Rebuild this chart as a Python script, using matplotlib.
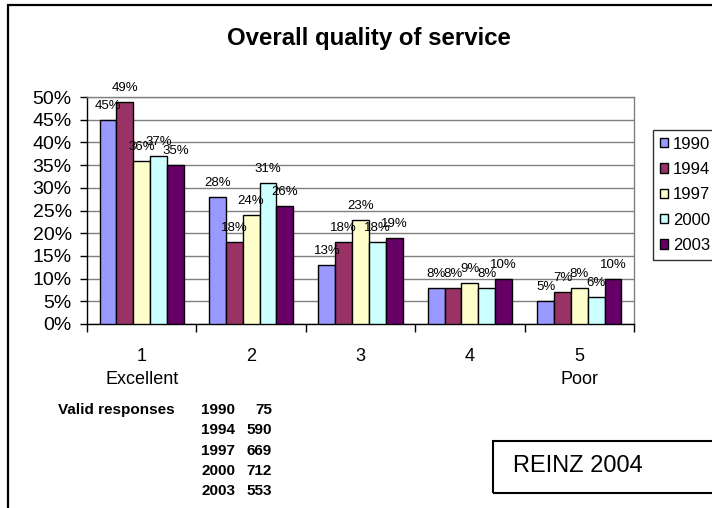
import matplotlib
matplotlib.use("Agg")
import matplotlib.pyplot as plt
from matplotlib.patches import Rectangle
import numpy as np

plt.rcParams['font.family'] = ['Liberation Sans', 'DejaVu Sans']

categories = ["1\nExcellent", "2", "3", "4", "5\nPoor"]
years = ["1990", "1994", "1997", "2000", "2003"]
v1990 = [45, 28, 13, 8, 5]
v1994 = [49, 18, 18, 8, 7]
v1997 = [36, 24, 23, 9, 8]
v2000 = [37, 31, 18, 8, 6]
v2003 = [35, 26, 19, 10, 10]
series = [v1990, v1994, v1997, v2000, v2003]
colors = ["#9999FF", "#993366", "#FFFFCC", "#CCFFFF", "#660066"]
yticks = [0, 5, 10, 15, 20, 25, 30, 35, 40, 45, 50]
resp_years = ["1990", "1994", "1997", "2000", "2003"]
resp_counts = ["75", "590", "669", "712", "553"]

W, H = 712, 508
fig = plt.figure(figsize=(W / 100, H / 100), dpi=100)

def fx(px):
    return px / W

def fy(py):
    return 1 - py / H

# outer frame
fig.patches.append(Rectangle((fx(8), fy(600)), 2.0, fy(5) - fy(600),
                             transform=fig.transFigure, fill=False,
                             edgecolor="black", linewidth=1.6))

ax = fig.add_axes([fx(87), fy(324), fx(634) - fx(87), fy(97) - fy(324)])

n = len(series)
bw = 0.1536
x = np.arange(len(categories)) + 0.5
for i, (vals, c, yr) in enumerate(zip(series, colors, years)):
    pos = x + (i - (n - 1) / 2) * bw
    ax.bar(pos, vals, width=bw, color=c, edgecolor="black", linewidth=1.0,
           label=yr, zorder=3)
    for xp, v in zip(pos, vals):
        ax.annotate(f"{v}%", (xp, v), xytext=(0, 14), textcoords="offset pixels",
                    ha="center", va="center", fontsize=9.5, zorder=4)

ax.set_xlim(0, len(categories))
ax.set_ylim(0, 50)
ax.set_yticks(yticks)
ax.set_yticklabels([f"{t}%" for t in yticks], fontsize=14)
ax.yaxis.grid(True, color="#808080", linewidth=1.0, zorder=0)
ax.set_axisbelow(True)

ax.set_xticks(np.arange(len(categories) + 1))
ax.set_xticklabels([])
ax.set_xticks(x, minor=True)
ax.set_xticklabels(categories, minor=True, fontsize=13, linespacing=1.45)
ax.tick_params(axis="x", which="major", direction="out", length=6, width=1, color="black")
ax.tick_params(axis="x", which="minor", length=0, pad=17.5)
ax.tick_params(axis="y", direction="out", length=5, width=1, pad=6, color="black")

for s in ["top", "right"]:
    ax.spines[s].set_color("#808080")
    ax.spines[s].set_linewidth(1.0)
for s in ["left", "bottom"]:
    ax.spines[s].set_color("black")
    ax.spines[s].set_linewidth(1.0)

fig.text(fx(369), fy(38), "Overall quality of service", ha="center", va="center",
         fontsize=17.3, fontweight="bold")

leg = fig.legend(loc="upper left", bbox_to_anchor=(fx(653), fy(130)), borderaxespad=0,
                 fontsize=12, frameon=True, fancybox=False, handlelength=0.5,
                 handleheight=0.5, handletextpad=0.3, labelspacing=0.62,
                 borderpad=0.4)
leg.get_frame().set_edgecolor("black")
leg.get_frame().set_linewidth(1.0)

# valid responses table
fig.text(fx(58), fy(410), "Valid responses", ha="left", va="center", fontsize=11,
         fontweight="bold")
for i, (yr, cnt) in enumerate(zip(resp_years, resp_counts)):
    yy = 410 + 20.3 * i
    fig.text(fx(201), fy(yy), yr, ha="left", va="center", fontsize=11, fontweight="bold")
    fig.text(fx(272), fy(yy), cnt, ha="right", va="center", fontsize=11, fontweight="bold")

fig.patches.append(Rectangle((fx(493), fy(493)), fx(730) - fx(493), fy(441) - fy(493),
                             transform=fig.transFigure, fill=False,
                             edgecolor="black", linewidth=1.5))
fig.text(fx(513), fy(466), "REINZ 2004", ha="left", va="center", fontsize=17)

fig.savefig("out.png", dpi=100)
